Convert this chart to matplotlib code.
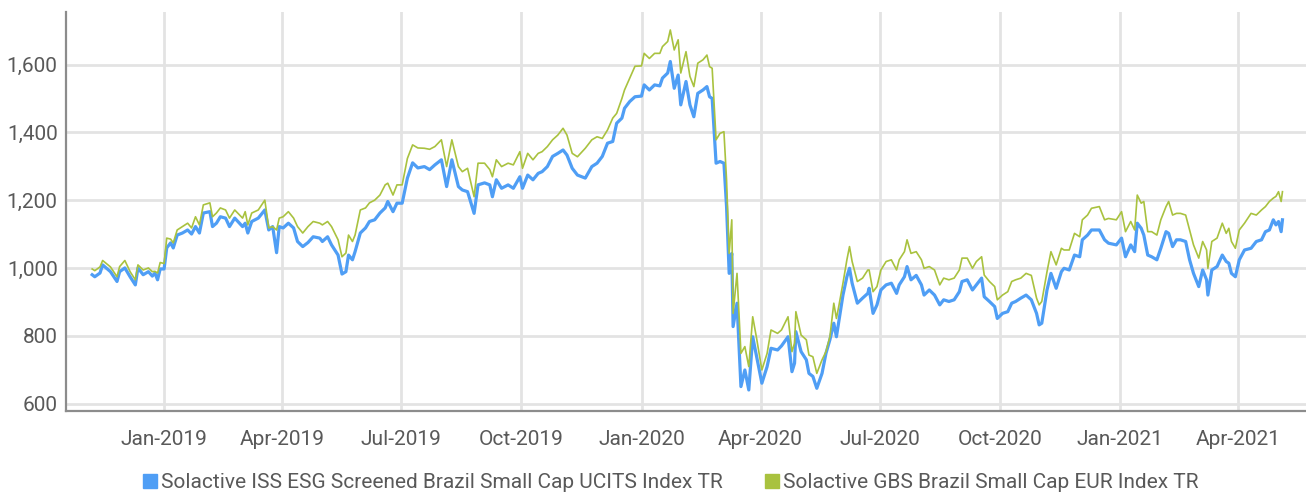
import pandas as pd
import matplotlib.pyplot as plt
import matplotlib.dates as mdates
from matplotlib.lines import Line2D

dates = [
    # Nov 2018 - Mar 2019
    "2018-11-07", "2018-11-09", "2018-11-13", "2018-11-15", "2018-11-21", "2018-11-26", "2018-11-28",
    "2018-12-02", "2018-12-06", "2018-12-10", "2018-12-12", "2018-12-16", "2018-12-20", "2018-12-23",
    "2018-12-25", "2018-12-27", "2018-12-29", "2019-01-01", "2019-01-03", "2019-01-06", "2019-01-08",
    "2019-01-11", "2019-01-15", "2019-01-19", "2019-01-22", "2019-01-25", "2019-01-28", "2019-01-31",
    "2019-02-05", "2019-02-07", "2019-02-10", "2019-02-13", "2019-02-17", "2019-02-20", "2019-02-24",
    "2019-03-02", "2019-03-04", "2019-03-06", "2019-03-09", "2019-03-14",
    # Mar - Jul 2019
    "2019-03-19", "2019-03-22", "2019-03-25", "2019-03-28", "2019-03-30", "2019-04-02", "2019-04-06",
    "2019-04-10", "2019-04-13", "2019-04-17", "2019-04-21", "2019-04-25", "2019-04-30", "2019-05-02",
    "2019-05-06", "2019-05-09", "2019-05-14", "2019-05-17", "2019-05-20", "2019-05-22", "2019-05-25",
    "2019-05-27", "2019-05-31", "2019-06-04", "2019-06-07", "2019-06-11", "2019-06-15", "2019-06-19",
    "2019-06-21", "2019-06-25", "2019-06-28", "2019-07-02", "2019-07-06", "2019-07-10", "2019-07-14",
    # Jul - Nov 2019
    "2019-07-19", "2019-07-23", "2019-07-27", "2019-08-01", "2019-08-05", "2019-08-09", "2019-08-14",
    "2019-08-17", "2019-08-21", "2019-08-26", "2019-08-29", "2019-09-03", "2019-09-07", "2019-09-09",
    "2019-09-12", "2019-09-16", "2019-09-21", "2019-09-25", "2019-09-30", "2019-10-02", "2019-10-06",
    "2019-10-10", "2019-10-14", "2019-10-17", "2019-10-21", "2019-10-25", "2019-10-29", "2019-11-02",
    "2019-11-05", "2019-11-09", "2019-11-13", "2019-11-19", "2019-11-24",
    # Nov 2019 - Apr 2020
    "2019-11-28", "2019-12-02", "2019-12-06", "2019-12-10", "2019-12-13", "2019-12-17", "2019-12-19",
    "2019-12-23", "2019-12-27", "2020-01-01", "2020-01-03", "2020-01-07", "2020-01-11", "2020-01-15",
    "2020-01-17", "2020-01-21", "2020-01-23", "2020-01-26", "2020-01-29", "2020-01-31", "2020-02-04",
    "2020-02-07", "2020-02-10", "2020-02-13", "2020-02-17", "2020-02-20", "2020-02-22", "2020-02-24",
    "2020-02-27", "2020-03-01", "2020-03-04", "2020-03-06", "2020-03-08", "2020-03-10", "2020-03-11",
    "2020-03-14", "2020-03-17", "2020-03-20", "2020-03-23", "2020-03-26", "2020-03-29", "2020-04-02",
    # Apr - Aug 2020
    "2020-04-06", "2020-04-09", "2020-04-14", "2020-04-17", "2020-04-22", "2020-04-25", "2020-04-27",
    "2020-04-28", "2020-05-02", "2020-05-06", "2020-05-08", "2020-05-11", "2020-05-14", "2020-05-18",
    "2020-05-21", "2020-05-24", "2020-05-27", "2020-05-29", "2020-05-31", "2020-06-03", "2020-06-06",
    "2020-06-08", "2020-06-10", "2020-06-14", "2020-06-18", "2020-06-22", "2020-06-23", "2020-06-26",
    "2020-06-29", "2020-07-02", "2020-07-06", "2020-07-10", "2020-07-14", "2020-07-16", "2020-07-20",
    "2020-07-22", "2020-07-25", "2020-07-29", "2020-08-02", "2020-08-04",
    # Aug - Dec 2020
    "2020-08-08", "2020-08-12", "2020-08-16", "2020-08-19", "2020-08-23", "2020-08-27", "2020-08-31",
    "2020-09-02", "2020-09-06", "2020-09-10", "2020-09-13", "2020-09-17", "2020-09-19", "2020-09-23",
    "2020-09-27", "2020-09-29", "2020-10-03", "2020-10-07", "2020-10-10", "2020-10-13", "2020-10-17",
    "2020-10-21", "2020-10-25", "2020-10-29", "2020-10-31", "2020-11-02", "2020-11-06", "2020-11-09",
    "2020-11-13", "2020-11-17", "2020-11-19", "2020-11-23", "2020-11-27", "2020-12-01", "2020-12-03",
    "2020-12-07", "2020-12-10",
    # Dec 2020 - May 2021
    "2020-12-16", "2020-12-20", "2020-12-23", "2020-12-29", "2021-01-02", "2021-01-05", "2021-01-09",
    "2021-01-12", "2021-01-14", "2021-01-17", "2021-01-19", "2021-01-22", "2021-01-25", "2021-01-29",
    "2021-02-01", "2021-02-05", "2021-02-07", "2021-02-10", "2021-02-13", "2021-02-16", "2021-02-20",
    "2021-02-23", "2021-02-26", "2021-03-02", "2021-03-05", "2021-03-08", "2021-03-09", "2021-03-12",
    "2021-03-16", "2021-03-20", "2021-03-23", "2021-03-25", "2021-03-27", "2021-03-30", "2021-04-02",
    "2021-04-06", "2021-04-11", "2021-04-15", "2021-04-19", "2021-04-22", "2021-04-25", "2021-04-28",
    "2021-04-30", "2021-05-02", "2021-05-04", "2021-05-05",
]

esg_tr = [
    980, 974, 985, 1009, 989, 960, 989, 1000, 974, 950, 1000, 980, 989, 976, 985, 965, 997, 997,
    1059, 1074, 1059, 1097, 1103, 1112, 1100, 1122, 1103, 1162, 1166, 1122, 1132, 1151, 1147, 1122,
    1147, 1122, 1132, 1103, 1137, 1147,
    1171, 1112, 1122, 1045, 1122, 1118, 1132, 1118, 1078, 1063, 1075, 1092, 1088, 1078, 1092, 1068,
    1038, 982, 989, 1038, 1024, 1048, 1103, 1118, 1137, 1142, 1162, 1177, 1196, 1166, 1191, 1191,
    1265, 1310, 1295,
    1299, 1290, 1304, 1319, 1240, 1319, 1240, 1230, 1225, 1161, 1245, 1251, 1245, 1210, 1260, 1235,
    1245, 1235, 1269, 1235, 1274, 1260, 1279, 1284, 1299, 1329, 1338, 1348, 1333, 1294, 1274, 1265,
    1299,
    1309, 1329, 1368, 1373, 1427, 1442, 1471, 1491, 1505, 1507, 1540, 1525, 1540, 1537, 1560, 1575,
    1609, 1530, 1569, 1481, 1550, 1481, 1446, 1515, 1525, 1535, 1505, 1500, 1309, 1314, 1309, 1181,
    984, 1043, 827, 896, 650, 699, 640, 797, 738, 660,
    709, 763, 758, 770, 797, 694, 719, 812, 753, 729, 689, 680, 645, 689, 748, 788, 837, 797, 847,
    920, 974, 999, 955, 896, 911, 925, 940, 866, 891, 935, 950, 955, 925, 950, 974, 1004, 965, 978,
    950, 920,
    935, 920, 891, 906, 901, 906, 930, 960, 965, 935, 950, 970, 915, 901, 886, 851, 866, 871, 896,
    901, 911, 920, 906, 866, 832, 837, 935, 984, 940, 989, 999, 994, 1038, 1033, 1083, 1097, 1112,
    1112, 1083, 1073, 1068, 1088, 1033, 1068, 1048, 1132, 1117, 1097, 1038, 1033, 1024, 1058, 1107,
    1102, 1063, 1083, 1083, 1078, 1024, 984, 945, 994, 965, 920, 994, 1004, 1038, 1019, 1014, 984,
    974, 1024, 1053, 1058, 1078, 1083, 1107, 1112, 1142, 1127, 1137, 1107, 1142,
]

gbs_tr = [
    997, 992, 1003, 1022, 1003, 974, 1004, 1022, 989, 965, 1009, 994, 1000, 989, 990, 985, 1016, 1013,
    1088, 1085, 1074, 1112, 1122, 1132, 1118, 1151, 1127, 1186, 1192, 1151, 1162, 1177, 1171, 1147,
    1171, 1147, 1166, 1127, 1162, 1171,
    1200, 1118, 1122, 1112, 1147, 1151, 1166, 1147, 1122, 1103, 1122, 1137, 1132, 1127, 1137, 1122,
    1083, 1033, 1044, 1097, 1078, 1097, 1171, 1177, 1192, 1200, 1215, 1245, 1250, 1215, 1245, 1245,
    1323, 1363, 1354,
    1353, 1350, 1358, 1378, 1299, 1378, 1299, 1284, 1294, 1210, 1309, 1309, 1290, 1269, 1319, 1299,
    1309, 1304, 1343, 1294, 1338, 1319, 1338, 1343, 1358, 1378, 1392, 1412, 1392, 1338, 1328, 1353,
    1378,
    1387, 1382, 1407, 1442, 1456, 1500, 1525, 1560, 1595, 1596, 1633, 1618, 1633, 1633, 1653, 1668,
    1702, 1643, 1673, 1575, 1638, 1565, 1535, 1604, 1614, 1628, 1594, 1589, 1378, 1397, 1402, 1260,
    1043, 1142, 866, 984, 748, 768, 709, 856, 792, 699,
    748, 817, 807, 817, 856, 753, 778, 871, 802, 788, 743, 738, 689, 729, 753, 797, 896, 851, 891,
    955, 1024, 1063, 1019, 960, 970, 994, 994, 930, 945, 994, 1019, 1024, 994, 1024, 1048, 1083,
    1043, 1048, 1024, 999,
    1004, 994, 950, 970, 965, 970, 994, 1029, 1029, 999, 1019, 1033, 979, 960, 945, 906, 920, 930,
    960, 965, 970, 984, 978, 911, 891, 901, 989, 1048, 1009, 1058, 1053, 1053, 1102, 1092, 1142,
    1156, 1176,
    1181, 1142, 1146, 1142, 1166, 1107, 1137, 1112, 1215, 1191, 1196, 1107, 1107, 1097, 1142, 1181,
    1196, 1156, 1161, 1161, 1156, 1112, 1068, 1029, 1078, 1053, 999, 1078, 1088, 1132, 1102, 1117,
    1078, 1058, 1112, 1132, 1161, 1156, 1171, 1181, 1196, 1206, 1211, 1225, 1196, 1225,
]

series_names = [
    "Solactive ISS ESG Screened Brazil Small Cap UCITS Index TR",
    "Solactive GBS Brazil Small Cap EUR Index TR",
]
blue = "#4f9ef5"
green = "#a9c23f"
grey_txt = "#595959"

x = pd.to_datetime(dates)

plt.rcParams['font.family'] = ['Roboto', 'DejaVu Sans']

fig = plt.figure(figsize=(13.06, 4.95), dpi=100)
ax = fig.add_axes([66 / 1306, 84 / 495, 1240 / 1306, 399 / 495])

ax.plot(x, esg_tr, color=blue, lw=2.3, zorder=3)
ax.plot(x, gbs_tr, color=green, lw=1.2, zorder=4)

ax.set_ylim(578, 1755)
ax.set_xlim(pd.Timestamp("2018-10-18"), pd.Timestamp("2021-05-23"))
ax.set_yticks([600, 800, 1000, 1200, 1400, 1600])
ax.yaxis.set_major_formatter(plt.FuncFormatter(lambda v, p: f"{v:,.0f}"))
ax.xaxis.set_major_locator(mdates.MonthLocator(bymonth=[1, 4, 7, 10]))
ax.xaxis.set_major_formatter(mdates.DateFormatter("%b-%Y"))

ax.grid(True, color="#e3e3e3", lw=2)
ax.set_axisbelow(True)
for s in ["top", "right"]:
    ax.spines[s].set_visible(False)
for s in ["left", "bottom"]:
    ax.spines[s].set_color("#8c8c8c")
    ax.spines[s].set_linewidth(1.6)
ax.tick_params(axis="both", length=0, labelsize=15, labelcolor=grey_txt)
ax.tick_params(axis="x", pad=14)
ax.tick_params(axis="y", pad=6)

handles = [Line2D([], [], marker="s", ls="", color=c, markersize=10) for c in (blue, green)]
fig.legend(handles, series_names, loc="center", bbox_to_anchor=(0.513, 0.025),
           ncol=2, frameon=False, fontsize=15, labelcolor=grey_txt,
           handletextpad=0.1, columnspacing=2.0, handlelength=0.8)

fig.savefig("out.png", dpi=100)
